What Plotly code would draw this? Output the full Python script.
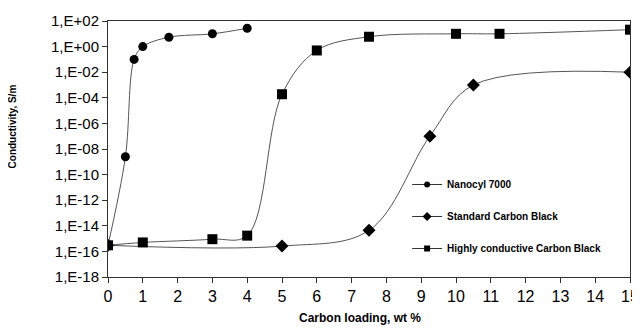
import plotly.graph_objects as go

# Data
nanocyl_x = [0, 0.5, 0.75, 1, 1.75, 3, 4]
nanocyl_y = [3e-16, 2.5e-9, 0.1, 1.0, 5.4, 10, 27]

standard_x = [0, 5, 7.5, 9.25, 10.5, 15]
standard_y = [3e-16, 2.6e-16, 4.4e-15, 1e-7, 1e-3, 1e-2]

highly_x = [0, 1, 3, 4, 5, 6, 7.5, 10, 11.25, 15]
highly_y = [3e-16, 5e-16, 9e-16, 1.7e-15, 1.9e-4, 0.5, 5.9, 10, 10, 21]

y_tick_vals = [1e2, 1e0, 1e-2, 1e-4, 1e-6, 1e-8, 1e-10, 1e-12, 1e-14, 1e-16, 1e-18]
y_tick_text = ["1,E+02", "1,E+00", "1,E-02", "1,E-04", "1,E-06", "1,E-08",
               "1,E-10", "1,E-12", "1,E-14", "1,E-16", "1,E-18"]

series_names = ["Nanocyl 7000", "Standard Carbon Black", "Highly conductive Carbon Black"]
symbols = ["circle", "diamond", "square"]
groups = ["a", "b", "c"]

line_style = dict(color="#555555", width=1, shape="spline", smoothing=1)

fig = go.Figure()
for xs, ys, name, sym, grp in zip([nanocyl_x, standard_x, highly_x],
                                  [nanocyl_y, standard_y, highly_y],
                                  series_names, symbols, groups):
    size = 10 if sym != "circle" else 9
    fig.add_trace(go.Scatter(x=xs, y=ys, name=name, mode="lines+markers",
                             line=line_style, legendgroup=grp, showlegend=False,
                             marker=dict(symbol=sym, size=size, color="black")))
    # legend-only entry with smaller symbol, as in the reference legend
    fig.add_trace(go.Scatter(x=[None], y=[None], name="<b>" + name + "</b>",
                             mode="lines+markers",
                             line=dict(color="#333333", width=1), legendgroup=grp,
                             marker=dict(symbol=sym, size=6 if sym != "diamond" else 7,
                                         color="black")))

axis_common = dict(showline=True, linecolor="#333333", linewidth=1, mirror=True,
                   showgrid=False, zeroline=False, ticks="outside", ticklen=5,
                   tickcolor="#333333", automargin=False)

fig.update_layout(
    width=632, height=323,
    margin=dict(l=100, r=10, t=13, b=54),
    paper_bgcolor="white", plot_bgcolor="white",
    font=dict(family="Liberation Sans, Arial, sans-serif", color="black"),
    xaxis=dict(range=[0, 15], dtick=1, tick0=0, tickfont=dict(size=16),
               ticklabeloverflow="allow", **axis_common),
    yaxis=dict(type="log", range=[-18, 2], tickvals=y_tick_vals, ticktext=y_tick_text,
               tickfont=dict(size=15), **axis_common),
    showlegend=True,
    legend=dict(x=0.573, y=0.418, xanchor="left", yanchor="top",
                font=dict(size=10, family="Liberation Sans, Arial, sans-serif"),
                bgcolor="rgba(0,0,0,0)", itemsizing="trace", tracegroupgap=13,
                traceorder="grouped", itemwidth=30),
    annotations=[
        dict(text="<b>Carbon loading, wt %</b>", xref="paper", yref="paper",
             x=0.482, y=-0.16, xanchor="center", yanchor="middle", showarrow=False,
             font=dict(size=12)),
        dict(text="<b>Conductivity, S/m</b>", xref="paper", yref="paper",
             x=-0.183, y=0.59, xanchor="center", yanchor="middle", showarrow=False,
             textangle=-90, font=dict(size=10)),
    ],
)

fig.write_html("out.html")
